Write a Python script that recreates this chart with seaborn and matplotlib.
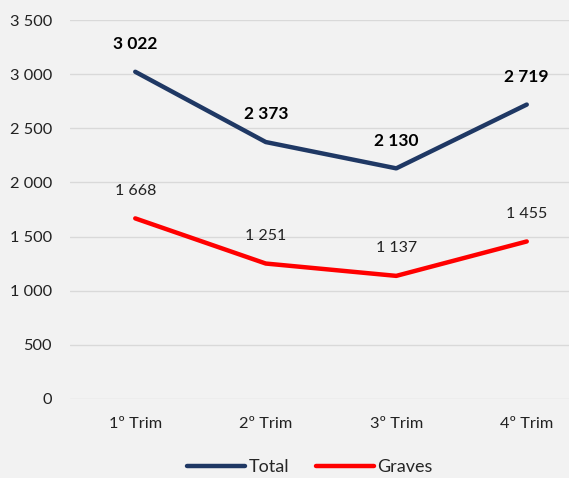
import matplotlib
matplotlib.use("Agg")
import matplotlib.pyplot as plt
import seaborn as sns
import pandas as pd
from matplotlib.ticker import FuncFormatter, MultipleLocator

categories = ["1º Trim", "2º Trim", "3º Trim", "4º Trim"]
total = [3022, 2373, 2130, 2719]
graves = [1668, 1251, 1137, 1455]
series_names = ["Total", "Graves"]
colors = {"Total": "#1F3864", "Graves": "#FF0000"}

def fmt(v):
    return f"{int(v):,}".replace(",", " ")

df = pd.DataFrame({
    "cat": list(range(len(categories))) * 2,
    "val": total + graves,
    "serie": [series_names[0]] * len(total) + [series_names[1]] * len(graves),
})

sns.set_theme(style="white")
plt.rcParams['font.family'] = ['Lato', 'DejaVu Sans']

bg = "#F2F2F2"
fig = plt.figure(figsize=(5.69, 4.78), dpi=100, facecolor=bg)
ax = fig.add_axes([70/569, 79/478, 522/569, 379/478])
ax.set_facecolor(bg)

sns.lineplot(data=df, x="cat", y="val", hue="serie", palette=colors,
             linewidth=3.2, ax=ax, legend=False)

for i, v in enumerate(total):
    ax.annotate(fmt(v), (i, v), xytext=(0, 20), textcoords="offset points",
                ha="center", va="center", fontsize=12.5, fontweight="bold", color="black")
for i, v in enumerate(graves):
    ax.annotate(fmt(v), (i, v), xytext=(0, 20), textcoords="offset points",
                ha="center", va="center", fontsize=11.5, color="#222222")

ax.set_xlim(-0.5, 3.5)
ax.set_ylim(0, 3500)
ax.yaxis.set_major_locator(MultipleLocator(500))
ax.yaxis.set_major_formatter(FuncFormatter(lambda v, p: fmt(v)))
ax.set_xticks(range(len(categories)))
ax.set_xticklabels(categories)
ax.tick_params(axis="both", length=0, labelsize=11.8, colors="#222222")
ax.tick_params(axis="y", pad=13)
ax.tick_params(axis="x", pad=13)
ax.grid(axis="y", color="#D9D9D9", linewidth=1)
ax.set_axisbelow(True)
for s in ax.spines.values():
    s.set_visible(False)
ax.set_xlabel("")
ax.set_ylabel("")

from matplotlib.lines import Line2D
handles = [Line2D([], [], color=colors[n], linewidth=3.2) for n in series_names]
fig.legend(handles, series_names, loc="center", bbox_to_anchor=(310/569, 1 - 467/478),
           ncol=2, frameon=False, fontsize=13, handlelength=3.2, columnspacing=1.5,
           handletextpad=0.2)

fig.savefig("out.png", dpi=100, facecolor=bg)
